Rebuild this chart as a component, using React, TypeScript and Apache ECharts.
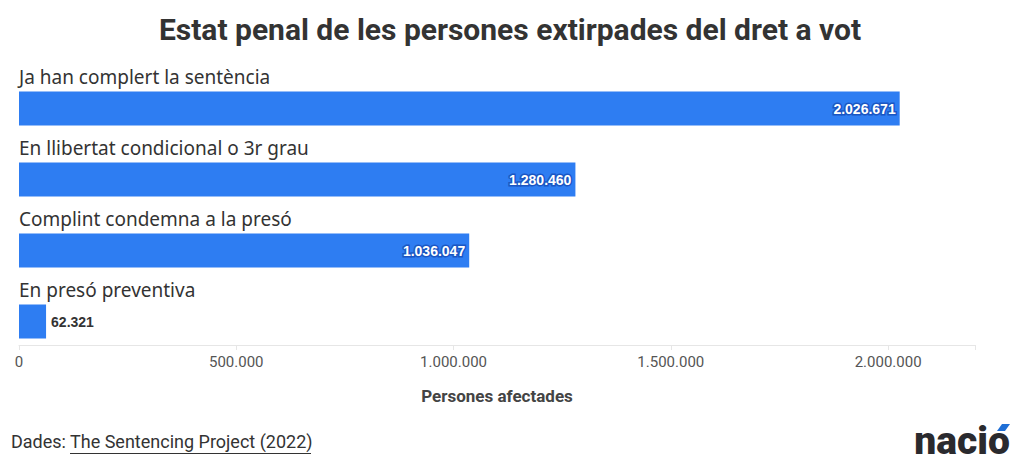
import React, { useEffect, useRef } from "react";
import * as echarts from "echarts";

const categories = [
  "Ja han complert la sentència",
  "En llibertat condicional o 3r grau",
  "Complint condemna a la presó",
  "En presó preventiva",
];
const values = [2026671, 1280460, 1036047, 62321];
const xTicks = [0, 500000, 1000000, 1500000, 2000000];
const title = "Estat penal de les persones extirpades del dret a vot";
const axisName = "Persones afectades";
const sourceLabel = "Dades: ";
const sourceLink = "The Sentencing Project (2022)";

const fmt = (v: number) => String(Math.round(v)).replace(/\B(?=(\d{3})+(?!\d))/g, ".");

export default function App() {
  const ref = useRef<HTMLDivElement>(null);
  useEffect(() => {
    if (!ref.current) return;
    const chart = echarts.init(ref.current, null, { renderer: "svg" });
    const barColor = "#2e7df2";
    const cond = "Roboto, sans-serif";
    chart.setOption({
      animation: false,
      title: {
        text: title,
        left: "center",
        top: 9,
        textStyle: {
          fontFamily: cond,
          fontSize: 30,
          fontWeight: "bold",
          color: "#333333",
        },
      },
      grid: { left: 19, right: 45, top: 73, bottom: 114 },
      xAxis: {
        type: "value",
        min: 0,
        max: 2200000,
        interval: 500000,
        offset: -12,
        axisLine: { show: true, lineStyle: { color: "#e6e6e6" } },
        axisTick: { show: true, length: 5, lineStyle: { color: "#e6e6e6" } },
        splitLine: { show: false },
        axisLabel: {
          margin: 9,
          fontFamily: cond,
          fontSize: 15,
          color: "#555555",
          formatter: (v: number) => (xTicks.includes(v) ? fmt(v) : ""),
        },
        name: axisName,
        nameLocation: "middle",
        nameGap: 42,
        nameTextStyle: {
          fontFamily: cond,
          fontSize: 17,
          fontWeight: "bold",
          color: "#444444",
        },
      },
      yAxis: {
        type: "category",
        data: categories,
        inverse: true,
        axisLine: { show: false },
        axisTick: { show: false },
        axisLabel: { show: false },
      },
      series: [
        {
          type: "bar",
          barWidth: 34,
          itemStyle: { color: barColor },
          data: values.map((v) => ({
            value: v,
            label:
              v > 300000
                ? {
                    show: true,
                    position: "insideRight",
                    distance: 4,
                    color: "#ffffff",
                    textBorderColor: "#1a56c4",
                    textBorderWidth: 3,
                  }
                : {
                    show: true,
                    position: "right",
                    distance: 5,
                    color: "#333333",
                  },
          })),
          label: {
            fontFamily: "Liberation Sans, Arial, sans-serif",
            fontSize: 14,
            fontWeight: "bold",
            formatter: (p: any) => fmt(p.value),
          },
        },
        {
          type: "bar",
          barWidth: 34,
          barGap: "-100%",
          silent: true,
          itemStyle: { color: "rgba(0,0,0,0)" },
          data: values,
          label: {
            show: true,
            position: [0, -24],
            align: "left",
            verticalAlign: "top",
            fontFamily: "Noto Sans, sans-serif",
            fontSize: 19,
            color: "#333333",
            formatter: (p: any) => p.name,
          },
        },
      ],
      graphic: [
        {
          type: "text",
          left: 11,
          top: 432,
          style: {
            text: sourceLabel,
            fontFamily: cond,
            fontSize: 18,
            fill: "#333333",
          },
        },
        {
          type: "text",
          left: 70,
          top: 432,
          style: {
            text: sourceLink,
            fontFamily: cond,
            fontSize: 18,
            fill: "#333333",
          },
        },
        {
          type: "line",
          shape: { x1: 70, y1: 453.5, x2: 311, y2: 453.5 },
          style: { stroke: "#333333", lineWidth: 1 },
        },
        {
          type: "text",
          right: 10,
          top: 421,
          style: {
            text: "nacio",
            fontFamily: "Roboto, Arial, sans-serif",
            fontSize: 39,
            fontWeight: 900,
            fill: "#2a2a2e",
          },
        },
        {
          type: "polygon",
          shape: { points: [[997, 431], [1002, 424], [1010, 424], [1005, 431]] },
          style: { fill: "#1f6fd6" },
        },
      ],
    });
    return () => chart.dispose();
  }, []);
  return (
    <div
      ref={ref}
      style={{ position: "fixed", left: 0, top: 0, width: 1020, height: 471, background: "#ffffff" }}
    />
  );
}
